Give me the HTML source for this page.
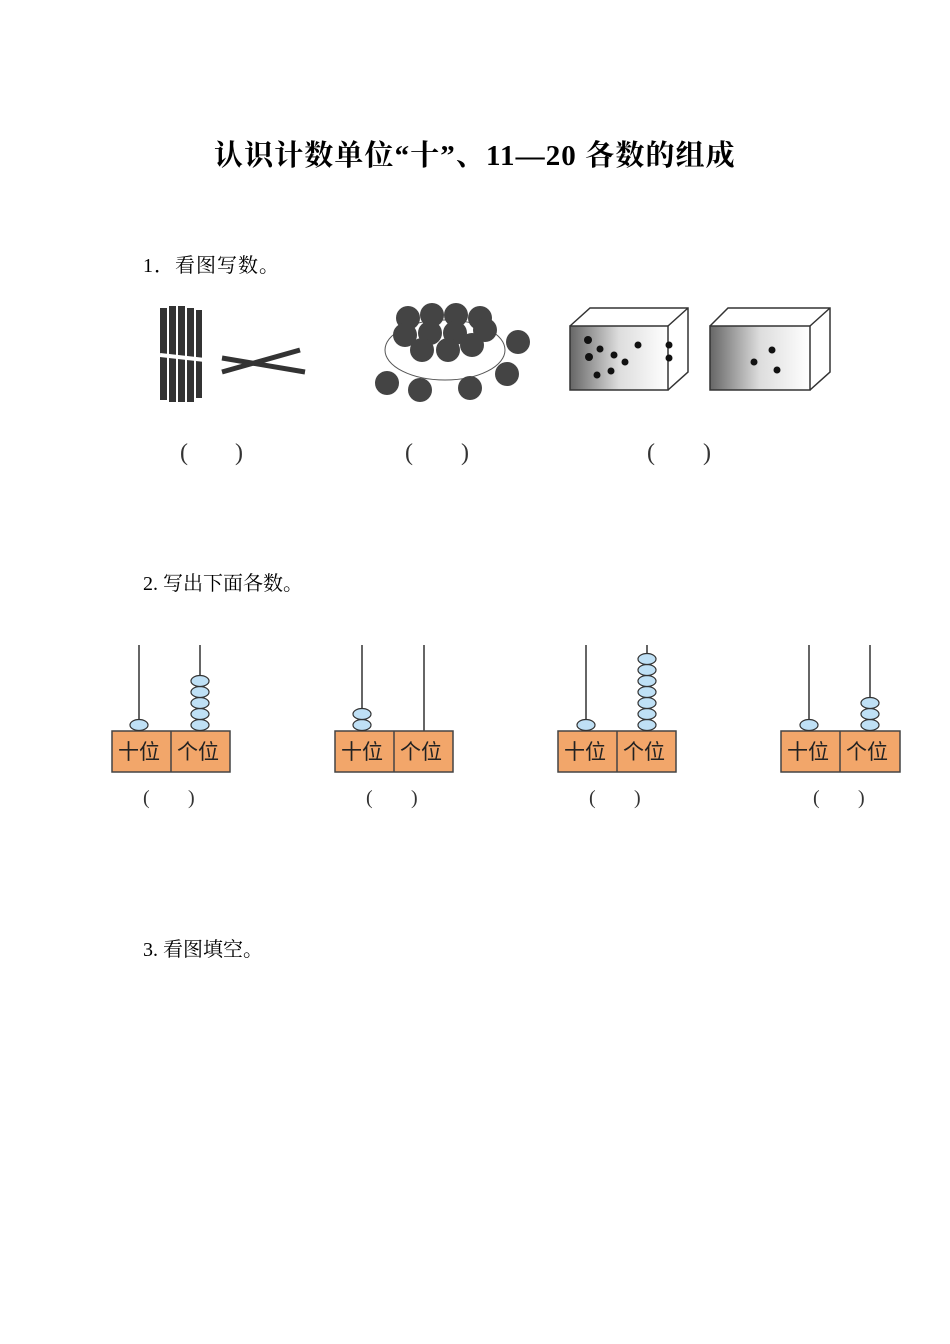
<!DOCTYPE html>
<html><head><meta charset="utf-8"><style>
body{margin:0;background:#fff;width:950px;height:1344px;position:relative;overflow:hidden;font-family:"Liberation Serif","Noto Serif CJK SC",serif;}
.t{position:absolute;white-space:nowrap;color:#000}
</style></head><body>
<div class="t" style="left:214px;top:133px;font-size:29px;letter-spacing:1.1px;font-weight:bold;">认识计数单位“十”、11—20 各数的组成</div>
<div class="t" style="left:143px;top:249px;font-size:20px;letter-spacing:1px;">1．看图写数。</div>
<div class="t" style="left:143px;top:567px;font-size:20px;">2. 写出下面各数。</div>
<div class="t" style="left:143px;top:933px;font-size:20px;">3. 看图填空。</div>
<svg width="950" height="1344" style="position:absolute;left:0;top:0" font-family="Liberation Serif, Noto Serif CJK SC, serif">
<g fill="#333">
<rect x="160" y="308" width="7" height="92"/><rect x="169" y="306" width="7" height="96"/><rect x="178" y="306" width="7" height="96"/><rect x="187" y="308" width="7" height="94"/><rect x="196" y="310" width="6" height="88"/>
</g>
<path d="M160 355 L205 360" stroke="#fff" stroke-width="4"/>
<path d="M222 372 L300 350 M222 358 L305 372" stroke="#333" stroke-width="5"/>
<ellipse cx="445" cy="350" rx="60" ry="30" fill="none" stroke="#555"/>
<g fill="#444">
<circle cx="408" cy="318" r="12"/><circle cx="432" cy="315" r="12"/><circle cx="456" cy="315" r="12"/><circle cx="480" cy="318" r="12"/>
<circle cx="405" cy="335" r="12"/><circle cx="430" cy="333" r="12"/><circle cx="455" cy="333" r="12"/><circle cx="485" cy="330" r="12"/>
<circle cx="422" cy="350" r="12"/><circle cx="448" cy="350" r="12"/><circle cx="472" cy="345" r="12"/>
<circle cx="518" cy="342" r="12"/><circle cx="387" cy="383" r="12"/><circle cx="420" cy="390" r="12"/><circle cx="470" cy="388" r="12"/><circle cx="507" cy="374" r="12"/>
</g>
<defs><linearGradient id="g" x1="0" x2="1"><stop offset="0" stop-color="#666"/><stop offset="0.5" stop-color="#ddd"/><stop offset="1" stop-color="#fff"/></linearGradient></defs>
<g stroke="#333" stroke-width="1.5">
<rect x="570" y="326" width="98" height="64" fill="url(#g)"/><path d="M570 326 L590 308 L688 308 L688 372 L668 390 M668 326 L688 308" fill="none"/>
<rect x="710" y="326" width="100" height="64" fill="url(#g)"/><path d="M710 326 L728 308 L830 308 L830 372 L810 390 M810 326 L830 308" fill="none"/>
</g>
<g fill="#111"><circle cx="588" cy="340" r="4"/><circle cx="589" cy="357" r="4"/><circle cx="600" cy="349" r="3.5"/><circle cx="614" cy="355" r="3.5"/><circle cx="625" cy="362" r="3.5"/><circle cx="611" cy="371" r="3.5"/><circle cx="597" cy="375" r="3.5"/><circle cx="638" cy="345" r="3.5"/><circle cx="669" cy="345" r="3.5"/><circle cx="669" cy="358" r="3.5"/><circle cx="772" cy="350" r="3.5"/><circle cx="754" cy="362" r="3.5"/><circle cx="777" cy="370" r="3.5"/></g>
<g font-size="24" fill="#333">
<text x="180" y="460">(</text><text x="235" y="460">)</text>
<text x="405" y="460">(</text><text x="461" y="460">)</text>
<text x="647" y="460">(</text><text x="703" y="460">)</text>
</g>
<g stroke="#333" stroke-width="1.5">
<line x1="139" y1="645" x2="139" y2="731"/><line x1="200" y1="645" x2="200" y2="731"/>
<line x1="362" y1="645" x2="362" y2="731"/><line x1="424" y1="645" x2="424" y2="731"/>
<line x1="586" y1="645" x2="586" y2="731"/><line x1="647" y1="645" x2="647" y2="731"/>
<line x1="809" y1="645" x2="809" y2="731"/><line x1="870" y1="645" x2="870" y2="731"/>
</g>
<g fill="#f2a66a" stroke="#444" stroke-width="1.5">
<rect x="112" y="731" width="118" height="41"/><line x1="171" y1="731" x2="171" y2="772"/>
<rect x="335" y="731" width="118" height="41"/><line x1="394" y1="731" x2="394" y2="772"/>
<rect x="558" y="731" width="118" height="41"/><line x1="617" y1="731" x2="617" y2="772"/>
<rect x="781" y="731" width="119" height="41"/><line x1="840" y1="731" x2="840" y2="772"/>
</g>
<g font-size="21" fill="#222" font-family="Noto Sans CJK SC, sans-serif">
<text x="118" y="759">十位</text><text x="177" y="759">个位</text>
<text x="341" y="759">十位</text><text x="400" y="759">个位</text>
<text x="564" y="759">十位</text><text x="623" y="759">个位</text>
<text x="787" y="759">十位</text><text x="846" y="759">个位</text>
</g>
<g fill="#bfe0f5" stroke="#333" stroke-width="1.2">
<ellipse cx="139" cy="725" rx="9" ry="5.5"/>
<ellipse cx="200" cy="725" rx="9" ry="5.5"/><ellipse cx="200" cy="714" rx="9" ry="5.5"/><ellipse cx="200" cy="703" rx="9" ry="5.5"/><ellipse cx="200" cy="692" rx="9" ry="5.5"/><ellipse cx="200" cy="681" rx="9" ry="5.5"/>
<ellipse cx="362" cy="725" rx="9" ry="5.5"/><ellipse cx="362" cy="714" rx="9" ry="5.5"/>
<ellipse cx="586" cy="725" rx="9" ry="5.5"/>
<ellipse cx="647" cy="725" rx="9" ry="5.5"/><ellipse cx="647" cy="714" rx="9" ry="5.5"/><ellipse cx="647" cy="703" rx="9" ry="5.5"/><ellipse cx="647" cy="692" rx="9" ry="5.5"/><ellipse cx="647" cy="681" rx="9" ry="5.5"/><ellipse cx="647" cy="670" rx="9" ry="5.5"/><ellipse cx="647" cy="659" rx="9" ry="5.5"/>
<ellipse cx="809" cy="725" rx="9" ry="5.5"/>
<ellipse cx="870" cy="725" rx="9" ry="5.5"/><ellipse cx="870" cy="714" rx="9" ry="5.5"/><ellipse cx="870" cy="703" rx="9" ry="5.5"/>
</g>
<g font-size="20" fill="#333">
<text x="143" y="804">(</text><text x="188" y="804">)</text>
<text x="366" y="804">(</text><text x="411" y="804">)</text>
<text x="589" y="804">(</text><text x="634" y="804">)</text>
<text x="813" y="804">(</text><text x="858" y="804">)</text>
</g>
</svg>
</body></html>
